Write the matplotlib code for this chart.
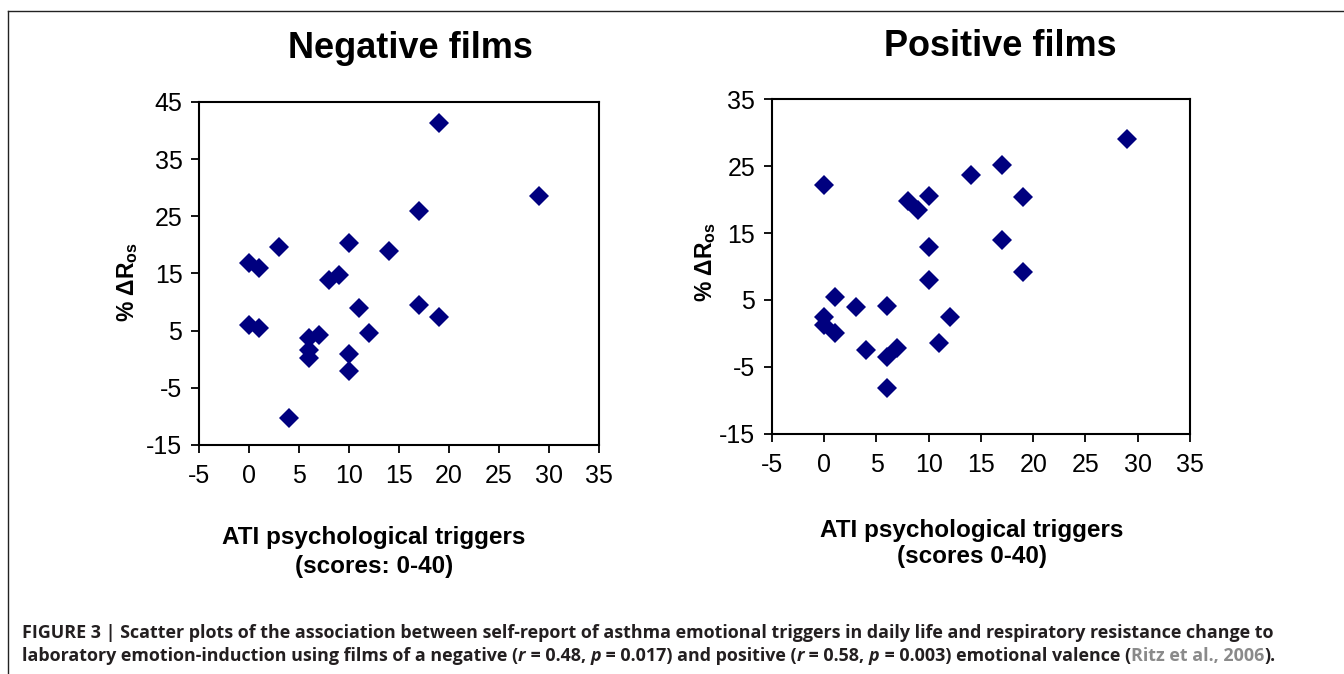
import numpy as np
import matplotlib
matplotlib.use('Agg')
import matplotlib.pyplot as plt
from matplotlib import font_manager
from matplotlib.lines import Line2D

# GLOBALS
# Data
neg_x = [19, 29, 17, 10, 3, 14, 0, 1, 9, 8, 17, 11, 19, 0, 1, 7, 12, 6, 6, 6, 10, 10, 4]
neg_y = [41.4, 28.5, 25.9, 20.4, 19.6, 18.9, 16.8, 15.9, 14.8, 13.9, 9.5, 8.9, 7.3,
         5.9, 5.4, 4.3, 4.6, 3.8, 1.7, 0.3, 1.0, -2.0, -10.3]

pos_x = [29, 17, 14, 0, 10, 19, 8, 9, 17, 10, 19, 10, 1, 6, 3, 12, 0, 0, 1, 11, 4, 7, 6, 6]
pos_y = [29.0, 25.2, 23.7, 22.1, 20.5, 20.3, 19.8, 18.4, 14.0, 12.9, 9.2, 8.0, 5.4,
         4.1, 3.9, 2.5, 2.4, 1.3, 0.0, -1.4, -2.5, -2.2, -3.5, -8.1]

x_ticks = [-5, 0, 5, 10, 15, 20, 25, 30, 35]
neg_y_ticks = [-15, -5, 5, 15, 25, 35, 45]
pos_y_ticks = [-15, -5, 5, 15, 25, 35]

titles = ['Negative films', 'Positive films']
xlabels = ['ATI psychological triggers\n(scores: 0-40)',
           'ATI psychological triggers\n(scores 0-40)']
ylabel = r'% $\mathbf{\Delta}$$\mathbf{R_{os}}$'

marker_color = '#00007f'

installed = {f.name for f in font_manager.fontManager.ttflist}
main_font = 'Liberation Sans'
cap_font = 'Open Sans' if 'Open Sans' in installed else 'Liberation Sans'

plt.rcParams['font.family'] = [main_font, 'DejaVu Sans']
plt.rcParams['axes.unicode_minus'] = False
plt.rcParams['mathtext.fontset'] = 'custom'
plt.rcParams['mathtext.rm'] = main_font
plt.rcParams['mathtext.bf'] = main_font + ':bold'
plt.rcParams['mathtext.it'] = main_font + ':italic'

fig = plt.figure(figsize=(13.44, 6.74), dpi=100)

ax_neg = fig.add_axes([0.1481, 0.3398, 0.2976, 0.5089])
ax_pos = fig.add_axes([0.5744, 0.3561, 0.3110, 0.4970])


def style_axes(ax, yticks, ylim):
    ax.set_xlim(-5, 35)
    ax.set_ylim(*ylim)
    ax.set_xticks(x_ticks)
    ax.set_yticks(yticks)
    for s in ax.spines.values():
        s.set_linewidth(1.5)
    ax.tick_params(direction='out', length=6, width=1.3, labelsize=18, colors='black')
    ax.tick_params(axis='x', pad=8)
    ax.tick_params(axis='y', pad=6)


ax_neg.plot(neg_x, neg_y, 'D', color=marker_color, markersize=10, markeredgewidth=0)
style_axes(ax_neg, neg_y_ticks, (-15, 45))

ax_pos.plot(pos_x, pos_y, 'D', color=marker_color, markersize=10, markeredgewidth=0)
style_axes(ax_pos, pos_y_ticks, (-15, 35))

# titles
fig.text(410 / 1344, 1 - 48 / 674, titles[0], ha='center', va='center',
         fontsize=26, fontweight='bold')
fig.text(1000 / 1344, 1 - 47 / 674, titles[1], ha='center', va='center',
         fontsize=26, fontweight='bold')

# x labels
fig.text(374 / 1344, 1 - 552 / 674, xlabels[0], ha='center', va='center',
         fontsize=17.5, fontweight='bold', linespacing=1.3)
fig.text(972 / 1344, 1 - 543.5 / 674, xlabels[1], ha='center', va='center',
         fontsize=17.5, fontweight='bold', linespacing=1.2)

# y labels
fig.text(128 / 1344, 1 - 282 / 674, ylabel, ha='center', va='center',
         fontsize=16.5, fontweight='bold', rotation=90)
fig.text(706 / 1344, 1 - 262 / 674, ylabel, ha='center', va='center',
         fontsize=16.5, fontweight='bold', rotation=90)

# frame lines (top and left)
fig.add_artist(Line2D([8 / 1344, 1.0], [1 - 11 / 674, 1 - 11 / 674],
                      transform=fig.transFigure, color='#222222', lw=1.0))
fig.add_artist(Line2D([8 / 1344, 8 / 1344], [0.0, 1 - 11 / 674],
                      transform=fig.transFigure, color='#222222', lw=1.0))

# caption, drawn piece by piece so italics and the gray citation fit in
renderer = fig.canvas.get_renderer()

dark = '#231f20'
gray = '#8a8a8a'
line1 = [('FIGURE 3 | Scatter plots of the association between self-report of asthma '
          'emotional triggers in daily life and respiratory resistance change to', 'normal', dark)]
line2 = [('laboratory emotion-induction using films of a negative (', 'normal', dark),
         ('r', 'italic', dark), (' = 0.48, ', 'normal', dark),
         ('p', 'italic', dark), (' = 0.017) and positive (', 'normal', dark),
         ('r', 'italic', dark), (' = 0.58, ', 'normal', dark),
         ('p', 'italic', dark), (' = 0.003) emotional valence (', 'normal', dark),
         ('Ritz et al., 2006', 'normal', gray), (').', 'normal', dark)]

# fit caption size so line 1 spans the same width as in the reference
probe = fig.text(0, 0, line1[0][0], fontsize=12, fontweight='bold',
                 family=[cap_font, 'DejaVu Sans'])
w = probe.get_window_extent(renderer=renderer).width
probe.remove()
cap_size = 12 * (1273 - 22) / w


def caption_line(pieces, x_px, y_px):
    x = x_px
    for txt, style, color in pieces:
        t = fig.text(x / 1344, 1 - y_px / 674, txt, ha='left', va='center',
                     fontsize=cap_size, fontweight='bold', fontstyle=style,
                     color=color, family=[cap_font, 'DejaVu Sans'])
        bb = t.get_window_extent(renderer=renderer)
        x += bb.width


caption_line(line1, 22, 633)
caption_line(line2, 22, 656)

fig.savefig('out.png', dpi=100)
